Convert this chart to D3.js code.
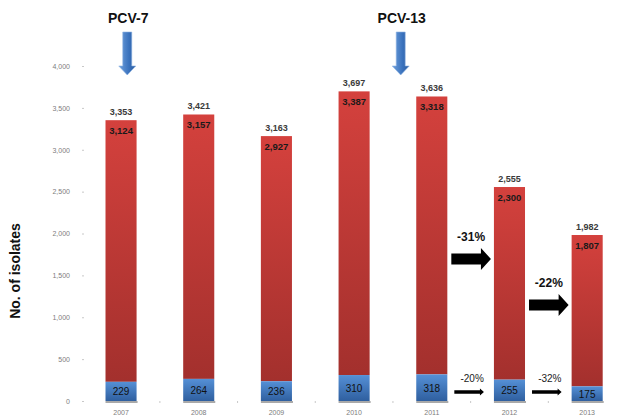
<!DOCTYPE html>
<html>
<head>
<meta charset="utf-8">
<script src="https://cdn.jsdelivr.net/npm/d3@7"></script>
<style>
  body { margin: 0; background: #fff; }
  svg { display: block; font-family: Arial, "Liberation Sans", sans-serif; }
</style>
</head>
<body>
<svg id="chart"></svg>
<script>
/////////////////////////////////
// DATA
/////////////////////////////////
var years = ["2007", "2008", "2009", "2010", "2011", "2012", "2013"];
var blueValues = [229, 264, 236, 310, 318, 255, 175];
var redValues = [3124, 3157, 2927, 3387, 3318, 2300, 1807];
var yTicks = [0, 500, 1000, 1500, 2000, 2500, 3000, 3500, 4000];

// vaccine introductions: label and which gap/bar they point at
var vaccines = [
  { name: "PCV-7", at: 0, offset: 0.08 },
  { name: "PCV-13", at: 3, offset: 0.6 }
];
// change annotations (total and blue)
var totalChanges = ["-31%", "-22%"];
var blueChanges = ["-20%", "-32%"];

/////////////////////////////////
// SETUP
/////////////////////////////////
var width = 631, height = 419;
var svg = d3.select("#chart").attr("width", width).attr("height", height);

var totals = redValues.map(function(r, i) { return r + blueValues[i]; });

var x = d3.scaleBand()
  .domain(years)
  .range([82.2, 626])
  .paddingInner(0.6)
  .paddingOuter(0.3);

var y = d3.scaleLinear()
  .domain([0, 4000])
  .range([401, 66]);

var defs = svg.append("defs");
var redGrad = defs.append("linearGradient").attr("id", "redGrad")
  .attr("x1", 0).attr("y1", 0).attr("x2", 0).attr("y2", 1);
redGrad.append("stop").attr("offset", "0%").attr("stop-color", "#d4413d");
redGrad.append("stop").attr("offset", "100%").attr("stop-color", "#a3302d");

var blueGrad = defs.append("linearGradient").attr("id", "blueGrad")
  .attr("x1", 0).attr("y1", 0).attr("x2", 0).attr("y2", 1);
blueGrad.append("stop").attr("offset", "0%").attr("stop-color", "#5590d6");
blueGrad.append("stop").attr("offset", "100%").attr("stop-color", "#2f5f9f");

var arrowGrad = defs.append("linearGradient").attr("id", "arrowGrad")
  .attr("x1", 0).attr("y1", 0).attr("x2", 1).attr("y2", 0);
arrowGrad.append("stop").attr("offset", "0%").attr("stop-color", "#6fa0dc");
arrowGrad.append("stop").attr("offset", "60%").attr("stop-color", "#3a72bd");
arrowGrad.append("stop").attr("offset", "100%").attr("stop-color", "#2c5c9e");

/////////////////////////////////
// Y AXIS (faint)
/////////////////////////////////
var yAxis = svg.append("g")
  .attr("transform", "translate(84,0)")
  .call(d3.axisLeft(y).tickValues(yTicks).tickSize(2).tickPadding(12).tickFormat(d3.format(",")));
yAxis.select(".domain").remove();
yAxis.selectAll(".tick line").attr("stroke", "#c8c8c8");
yAxis.selectAll("text").attr("fill", "#7d7d7d").attr("font-size", 7);

svg.append("text")
  .attr("transform", "translate(20,271) rotate(-90)")
  .attr("text-anchor", "middle")
  .attr("font-size", 14)
  .attr("font-weight", "bold")
  .attr("fill", "#111")
  .text("No. of isolates");

/////////////////////////////////
// X AXIS (faint)
/////////////////////////////////
var step = x.step();
var gapTicks = years.slice(1).map(function(d) { return x(d) - step * x.paddingInner() / 2; });
svg.selectAll(".gapTick")
  .data(gapTicks)
  .enter().append("line")
  .attr("x1", function(d) { return d; })
  .attr("x2", function(d) { return d; })
  .attr("y1", 401).attr("y2", 403)
  .attr("stroke", "#c8c8c8");

svg.selectAll(".xLabel")
  .data(years)
  .enter().append("text")
  .attr("x", function(d) { return x(d) + x.bandwidth() / 2; })
  .attr("y", 415)
  .attr("text-anchor", "middle")
  .attr("font-size", 7)
  .attr("fill", "#7d7d7d")
  .text(function(d) { return d; });

/////////////////////////////////
// BARS
/////////////////////////////////
var bars = svg.selectAll(".bar")
  .data(years)
  .enter().append("g");

// shadow under bar
bars.append("rect")
  .attr("x", function(d) { return x(d); })
  .attr("y", y(0))
  .attr("width", x.bandwidth() + 1)
  .attr("height", 2)
  .attr("fill", "#a9a9a9");

bars.append("rect")
  .attr("x", function(d) { return x(d); })
  .attr("y", function(d, i) { return y(totals[i]); })
  .attr("width", x.bandwidth())
  .attr("height", function(d, i) { return y(blueValues[i]) - y(totals[i]); })
  .attr("fill", "url(#redGrad)");

bars.append("rect")
  .attr("x", function(d) { return x(d); })
  .attr("y", function(d, i) { return y(blueValues[i]); })
  .attr("width", x.bandwidth())
  .attr("height", function(d, i) { return y(0) - y(blueValues[i]); })
  .attr("fill", "url(#blueGrad)");

// labels
bars.append("text")
  .attr("x", function(d) { return x(d) + x.bandwidth() / 2; })
  .attr("y", function(d, i) { return y(totals[i]) - 5; })
  .attr("text-anchor", "middle")
  .attr("font-size", 9)
  .attr("font-weight", "bold")
  .attr("fill", "#3a3a3a")
  .text(function(d, i) { return d3.format(",")(totals[i]); });

bars.append("text")
  .attr("x", function(d) { return x(d) + x.bandwidth() / 2; })
  .attr("y", function(d, i) { return y(totals[i]) + 14; })
  .attr("text-anchor", "middle")
  .attr("font-size", 9.5)
  .attr("font-weight", "bold")
  .attr("fill", "#1a1a1a")
  .text(function(d, i) { return d3.format(",")(redValues[i]); });

bars.append("text")
  .attr("x", function(d) { return x(d) + x.bandwidth() / 2; })
  .attr("y", function(d, i) { return (y(blueValues[i]) + y(0)) / 2 + 4; })
  .attr("text-anchor", "middle")
  .attr("font-size", 10)
  .attr("fill", "#111")
  .text(function(d, i) { return blueValues[i]; });

/////////////////////////////////
// VACCINE ARROWS
/////////////////////////////////
vaccines.forEach(function(v) {
  var cx = x(years[v.at]) + x.bandwidth() / 2 + v.offset * step;
  svg.append("text")
    .attr("x", cx + 1)
    .attr("y", 23)
    .attr("text-anchor", "middle")
    .attr("font-size", 14)
    .attr("font-weight", "bold")
    .attr("fill", "#111")
    .text(v.name);
  svg.append("path")
    .attr("d", "M" + (cx - 4.5) + ",32 H" + (cx + 4.5) + " V66 H" + (cx + 8.5) +
      " L" + cx + ",75 L" + (cx - 8.5) + ",66 H" + (cx - 4.5) + " Z")
    .attr("fill", "url(#arrowGrad)")
    .attr("stroke", "#8fb4e3")
    .attr("stroke-width", 0.6);
});

/////////////////////////////////
// CHANGE ARROWS
/////////////////////////////////
function blockArrow(x0, x1, yc, shaft, head, headLen) {
  return "M" + x0 + "," + (yc - shaft / 2) + " H" + (x1 - headLen) + " V" + (yc - head / 2) +
    " L" + x1 + "," + yc + " L" + (x1 - headLen) + "," + (yc + head / 2) +
    " V" + (yc + shaft / 2) + " H" + x0 + " Z";
}

// big arrows between bars 5-6 and 6-7
totalChanges.forEach(function(t, i) {
  var left = x(years[i + 4]) + x.bandwidth() + 4;
  var right = x(years[i + 5]) - 3;
  var yc = y(totals[i + 5]) + (i === 0 ? 72 : 70);
  svg.append("path")
    .attr("d", blockArrow(left, right, yc, 11, 22, 10))
    .attr("fill", "#000");
  svg.append("text")
    .attr("x", (left + right) / 2)
    .attr("y", yc - 18)
    .attr("text-anchor", "middle")
    .attr("font-size", 12)
    .attr("font-weight", "bold")
    .attr("fill", "#111")
    .text(t);
});

// small arrows for blue segment
blueChanges.forEach(function(t, i) {
  var left = x(years[i + 4]) + x.bandwidth() + 7;
  var right = x(years[i + 5]) - 10;
  var yc = 392;
  svg.append("path")
    .attr("d", blockArrow(left, right, yc, 3.5, 7, 4))
    .attr("fill", "#000");
  svg.append("text")
    .attr("x", (left + right) / 2 + 3)
    .attr("y", 382)
    .attr("text-anchor", "middle")
    .attr("font-size", 10)
    .attr("fill", "#222")
    .text(t);
});
</script>
</body>
</html>
